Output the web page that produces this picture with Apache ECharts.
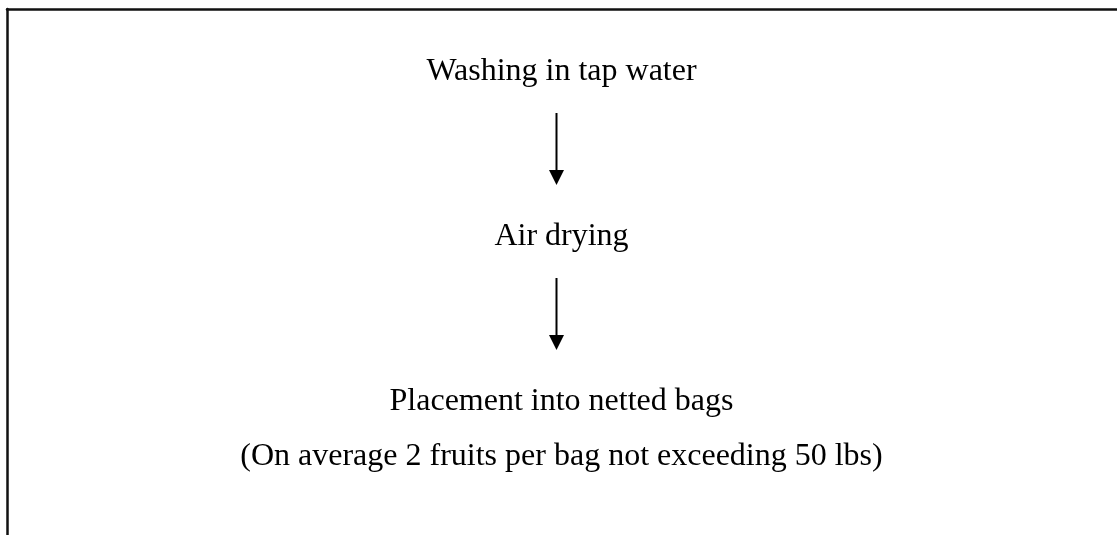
<!doctype html>
<html>
<head>
<meta charset="utf-8">
<title>Process flow</title>
<style>
    html, body { margin: 0; padding: 0; background: #fff; }
    #main { width: 1117px; height: 535px; }
</style>
</head>
<body>
<div id="main"></div>
<script src="https://cdn.jsdelivr.net/npm/echarts@6/dist/echarts.min.js"></script>
<script>
var steps = ['Washing in tap water', 'Air drying', 'Placement into netted bags'];
var stepRows = [0, 1, 2];
var notes = ['', '', '(On average 2 fruits per bag not exceeding 50 lbs)'];

var chart = echarts.init(document.getElementById('main'));
var serif = '"Liberation Serif", "Times New Roman", serif';

function renderStep(params, api) {
    var i = params.dataIndex;
    var p = api.coord([api.value(0), api.value(1)]);
    var children = [{
        type: 'text',
        style: {
            text: steps[i], x: p[0], y: p[1],
            align: 'center', verticalAlign: 'middle',
            fontFamily: serif, fontSize: 32, fill: '#000'
        }
    }];
    if (notes[i]) {
        children.push({
            type: 'text',
            style: {
                text: notes[i], x: p[0], y: p[1] + 55,
                align: 'center', verticalAlign: 'middle',
                fontFamily: serif, fontSize: 32, fill: '#000'
            }
        });
    }
    // arrow down to the next step
    if (i < steps.length - 1) {
        var q = api.coord([api.value(0), stepRows[i + 1]]);
        var ax = p[0] - 5, y0 = p[1] + 41, y1 = q[1] - 52;
        children.push({
            type: 'line',
            shape: { x1: ax, y1: y0, x2: ax, y2: y1 - 12 },
            style: { stroke: '#000', lineWidth: 2 }
        });
        children.push({
            type: 'polygon',
            shape: { points: [[ax - 7.5, y1 - 15], [ax + 7.5, y1 - 15], [ax, y1]] },
            style: { fill: '#000' }
        });
    }
    return { type: 'group', children: children };
}

chart.setOption({
    animation: false,
    grid: [
        // frame: only the top and left edges are drawn
        { left: 7, top: 9, right: 0, bottom: 0 },
        { left: 6, top: 72, right: 0, bottom: 133 }
    ],
    xAxis: [
        {
            gridIndex: 0, type: 'value', position: 'top', min: 0, max: 1,
            axisLine: { show: true, onZero: false, lineStyle: { color: '#111', width: 2.5 } },
            axisTick: { show: false }, axisLabel: { show: false }, splitLine: { show: false }
        },
        { gridIndex: 1, type: 'value', min: 0, max: 1, show: false }
    ],
    yAxis: [
        {
            gridIndex: 0, type: 'value', position: 'left', min: 0, max: 1,
            axisLine: { show: true, onZero: false, lineStyle: { color: '#111', width: 2.5 } },
            axisTick: { show: false }, axisLabel: { show: false }, splitLine: { show: false }
        },
        { gridIndex: 1, type: 'value', min: 0, max: 2, inverse: true, show: false }
    ],
    series: [{
        type: 'custom',
        xAxisIndex: 1,
        yAxisIndex: 1,
        silent: true,
        renderItem: renderStep,
        data: stepRows.map(function (r) { return [0.5, r]; })
    }]
});
</script>
</body>
</html>
